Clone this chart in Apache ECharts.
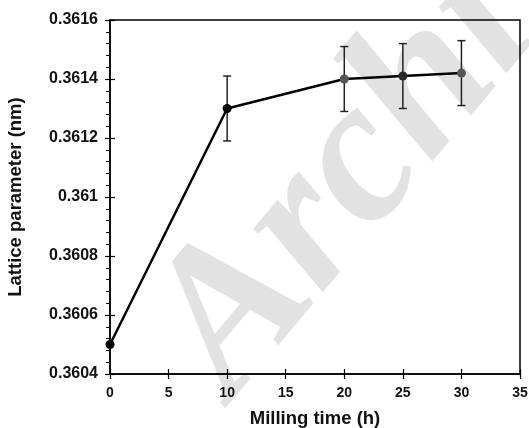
<!DOCTYPE html>
<html>
<head>
<meta charset="utf-8">
<script src="https://cdn.jsdelivr.net/npm/echarts@6/dist/echarts.min.js"></script>
<style>
  html, body { margin: 0; padding: 0; background: #fff; }
  #main { width: 529px; height: 428px; }
</style>
</head>
<body>
<div id="main"></div>
<script>
// data
const millingTime = [0, 10, 20, 25, 30];
const latticeParam = [0.36050, 0.36130, 0.36140, 0.36141, 0.36142];
const errLow = [null, 0.36119, 0.36129, 0.36130, 0.36131];
const errHigh = [null, 0.36141, 0.36151, 0.36152, 0.36153];
const markerColors = ['#000', '#000', '#555', '#2a2a2a', '#555'];

const font = '"Liberation Sans", Arial, sans-serif';
const chart = echarts.init(document.getElementById('main'));

const axisBase = {
  axisLine: { lineStyle: { color: '#000', width: 1.5 } },
  splitLine: { show: false }
};

chart.setOption({
  animation: false,
  graphic: [{
    type: 'text',
    x: 270, y: 432,
    rotation: 50 * Math.PI / 180,
    z: -10,
    silent: true,
    style: {
      text: 'Archive',
      font: 'italic bold 205px "Liberation Serif", serif',
      fill: '#e2e2e2',
      textAlign: 'left',
      textVerticalAlign: 'bottom'
    }
  }],
  grid: {
    left: 110, right: 9, top: 20, bottom: 54,
    containLabel: false, outerBoundsMode: 'none',
    show: true, borderColor: '#000', borderWidth: 1.5, backgroundColor: 'transparent'
  },
  xAxis: [{
    ...axisBase,
    type: 'value', min: 0, max: 35, interval: 5,
    name: 'Milling time (h)', nameLocation: 'middle', nameGap: 35,
    nameTextStyle: { fontFamily: font, fontWeight: 'bold', fontSize: 18.5, color: '#111' },
    axisTick: { show: true, inside: false, length: 5, lineStyle: { color: '#000', width: 1.2 } },
    axisLabel: { fontFamily: font, fontWeight: 'bold', fontSize: 14, color: '#111', margin: 12 }
  }, {
    type: 'value', min: 0, max: 35, interval: 5, position: 'bottom',
    axisLine: { show: false }, splitLine: { show: false }, axisLabel: { show: false },
    axisTick: { show: true, inside: true, length: 5, lineStyle: { color: '#000', width: 1.2 } }
  }],
  yAxis: [{
    ...axisBase,
    type: 'value', min: 0.3604, max: 0.3616, interval: 0.0002,
    name: 'Lattice parameter (nm)', nameLocation: 'middle', nameGap: 85,
    nameTextStyle: { fontFamily: font, fontWeight: 'bold', fontSize: 18.5, color: '#111' },
    axisTick: { show: true, inside: false, length: 5, lineStyle: { color: '#000', width: 1.2 } },
    minorTick: { show: true, splitNumber: 5, length: 4, lineStyle: { color: '#000', width: 1 } },
    axisLabel: {
      fontFamily: font, fontWeight: 'bold', fontSize: 16, color: '#111', margin: 12,
      formatter: v => String(+v.toFixed(4))
    }
  }, {
    type: 'value', min: 0.3604, max: 0.3616, interval: 0.0002, position: 'left',
    axisLine: { show: false }, splitLine: { show: false }, axisLabel: { show: false },
    axisTick: { show: true, inside: true, length: 5, lineStyle: { color: '#000', width: 1.2 } }
  }],
  series: [{
    type: 'custom',
    z: 3,
    data: millingTime.map((t, i) => [t, errLow[i], errHigh[i]]).filter(d => d[1] != null),
    renderItem: (params, api) => {
      const lo = api.coord([api.value(0), api.value(1)]);
      const hi = api.coord([api.value(0), api.value(2)]);
      const w = 4;
      const style = { stroke: '#222', lineWidth: 1.5 };
      return {
        type: 'group',
        children: [
          { type: 'line', shape: { x1: lo[0], y1: lo[1], x2: hi[0], y2: hi[1] }, style },
          { type: 'line', shape: { x1: lo[0] - w, y1: lo[1], x2: lo[0] + w, y2: lo[1] }, style },
          { type: 'line', shape: { x1: hi[0] - w, y1: hi[1], x2: hi[0] + w, y2: hi[1] }, style }
        ]
      };
    }
  }, {
    type: 'line',
    z: 4,
    symbol: 'circle',
    symbolSize: 9,
    lineStyle: { color: '#000', width: 2.5 },
    data: millingTime.map((t, i) => ({
      value: [t, latticeParam[i]],
      itemStyle: { color: markerColors[i] }
    }))
  }]
});
</script>
</body>
</html>
